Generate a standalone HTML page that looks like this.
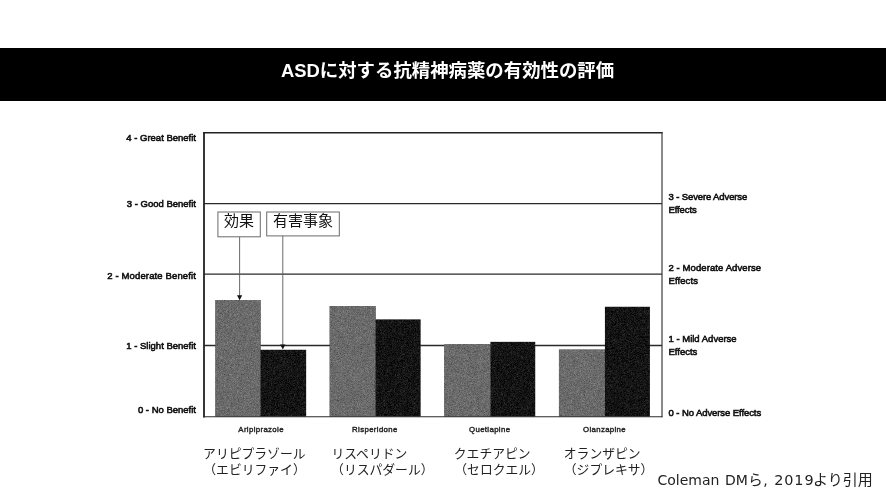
<!DOCTYPE html>
<html lang="ja">
<head>
<meta charset="utf-8">
<title>ASDに対する抗精神病薬の有効性の評価</title>
<style>
html,body{margin:0;padding:0;background:#fff;}
body{width:886px;height:498px;position:relative;overflow:hidden;font-family:"Liberation Sans","Noto Sans CJK JP",sans-serif;}
.abs{position:absolute;white-space:nowrap;}
#banner{position:absolute;left:0;top:47.5px;width:886px;height:53px;background:#000;}
#title{position:absolute;left:281px;top:44.3px;height:53px;line-height:53px;white-space:nowrap;color:#fff;font-weight:bold;font-size:18.4px;font-family:"Liberation Sans","Noto Sans CJK JP",sans-serif;}
.ax{font-size:9.5px;color:#111;font-family:"Liberation Sans",sans-serif;line-height:13.2px;font-weight:normal;-webkit-text-stroke:0.58px #111;letter-spacing:0;margin-top:-1.5px;}
.axl{text-align:right;}
.ax,.drug{filter:blur(0.3px);}
.drug{font-size:7.8px;letter-spacing:0.36px;width:80px;text-align:center;color:#222;font-weight:normal;-webkit-text-stroke:0.4px #222;font-family:"Liberation Sans",sans-serif;line-height:10px;}
.jp{font-size:12.8px;color:#222;font-family:"Liberation Sans","Noto Sans CJK JP",sans-serif;line-height:16.3px;}
.box{position:absolute;box-sizing:border-box;font-size:15px;color:#111;text-align:center;font-family:"Liberation Sans","Noto Sans CJK JP",sans-serif;}
#credit{font-size:14px;color:#222;font-family:"DejaVu Sans","Noto Sans CJK JP",sans-serif;line-height:20px;}
#c2{margin-left:1px;}
#c3{font-size:14.5px;margin-left:0.6px;}
#c4{margin-left:0.4px;}
#c5{font-size:14.4px;letter-spacing:0.95px;margin-left:2px;}
#c6{font-size:15px;margin-left:-1.6px;}
</style>
</head>
<body>
<div id="banner"></div>
<div id="title">ASDに対する抗精神病薬の有効性の評価</div>

<svg class="abs" style="left:0;top:0;filter:blur(0.35px)" width="886" height="498" viewBox="0 0 886 498">
  <defs>
    <filter id="grain" x="0" y="0" width="100%" height="100%" color-interpolation-filters="sRGB">
      <feTurbulence type="fractalNoise" baseFrequency="1.7" numOctaves="1" seed="7" result="t"/>
      <feColorMatrix in="t" type="matrix" values="0.6 0.6 0.6 0 -0.4  0.6 0.6 0.6 0 -0.4  0.6 0.6 0.6 0 -0.4  0 0 0 0 1" result="n"/>
      <feComposite in="SourceGraphic" in2="n" operator="arithmetic" k1="0" k2="1" k3="0.38" k4="-0.19" result="c"/>
      <feComposite in="c" in2="SourceGraphic" operator="in"/>
    </filter>
  </defs>
  <!-- gridlines -->
  <g stroke="#2a2a2a" stroke-width="1.3" fill="none">
    <line x1="204" y1="203.6" x2="662" y2="203.6"/>
    <line x1="204" y1="274.1" x2="662" y2="274.1"/>
    <line x1="204" y1="345.5" x2="662" y2="345.5"/>
  </g>
  <!-- bars -->
  <g fill="#6a6a6a" filter="url(#grain)">
    <rect x="215.2" y="300" width="45.6" height="116.7"/>
    <rect x="329.4" y="306" width="46.4" height="110.7"/>
    <rect x="444.1" y="344.2" width="46.6" height="72.5"/>
    <rect x="558.8" y="349.3" width="46.4" height="67.4"/>
  </g>
  <g fill="#141414" filter="url(#grain)">
    <rect x="260.4" y="349.6" width="45.9" height="67.1"/>
    <rect x="375.4" y="319.3" width="45.3" height="97.4"/>
    <rect x="490.3" y="341.7" width="45.1" height="75"/>
    <rect x="604.8" y="306.6" width="45.1" height="110.1"/>
  </g>
  <!-- frame -->
  <line x1="204" y1="132" x2="204" y2="417.4" stroke="#222" stroke-width="1.8"/>
  <line x1="203.2" y1="132.7" x2="662.5" y2="132.7" stroke="#222" stroke-width="1.6"/>
  <line x1="203.2" y1="416.7" x2="662.5" y2="416.7" stroke="#2a2a2a" stroke-width="1.15"/>
  <line x1="662" y1="132" x2="662" y2="417.3" stroke="#333" stroke-width="1.15"/>
  <!-- annotation boxes -->
  <g stroke="#6a6a6a" stroke-width="1" fill="#fff">
    <rect x="217.9" y="212" width="42.4" height="24.8"/>
    <rect x="266.7" y="212" width="72.6" height="23.9"/>
  </g>
  <!-- arrows -->
  <g stroke="#5a5a5a" stroke-width="0.9" fill="none">
    <line x1="239.6" y1="237" x2="239.6" y2="296"/>
    <line x1="282.8" y1="236" x2="282.8" y2="345"/>
  </g>
  <polygon points="237,295.3 242.2,295.3 239.6,300.2" fill="#111"/>
  <polygon points="280.2,344.6 285.4,344.6 282.8,349.6" fill="#111"/>
</svg>

<div class="box" style="left:217.4px;top:211.4px;width:43.4px;height:26px;line-height:20.4px;">効果</div>
<div class="box" style="left:266.2px;top:211.4px;width:73.6px;height:25.2px;line-height:20.4px;">有害事象</div>

<!-- left axis labels -->
<div class="abs ax axl" style="right:690px;top:132.8px;">4 - Great Benefit</div>
<div class="abs ax axl" style="right:690px;top:198.8px;">3 - Good Benefit</div>
<div class="abs ax axl" style="right:690px;top:270.3px;letter-spacing:0.13px;">2 - Moderate Benefit</div>
<div class="abs ax axl" style="right:690px;top:340.4px;">1 - Slight Benefit</div>
<div class="abs ax axl" style="right:690px;top:404.7px;">0 - No Benefit</div>

<!-- right axis labels -->
<div class="abs ax" style="left:668.5px;top:191.7px;letter-spacing:-0.12px;">3 - Severe Adverse<br>Effects</div>
<div class="abs ax" style="left:668.5px;top:262px;letter-spacing:0.09px;">2 - Moderate Adverse<br>Effects</div>
<div class="abs ax" style="left:668.5px;top:333px;">1 - Mild Adverse<br>Effects</div>
<div class="abs ax" style="left:668.5px;top:407.5px;letter-spacing:-0.08px;">0 - No Adverse Effects</div>

<!-- drug names -->
<div class="abs drug" style="left:221.1px;top:425.3px;">Aripiprazole</div>
<div class="abs drug" style="left:334.9px;top:425.3px;">Risperidone</div>
<div class="abs drug" style="left:449.7px;top:425.3px;">Quetiapine</div>
<div class="abs drug" style="left:564.5px;top:425.3px;">Olanzapine</div>

<!-- japanese drug names -->
<div class="abs jp" style="left:203.1px;top:445.5px;">アリピプラゾール</div>
<div class="abs jp" style="left:203.3px;top:461.6px;">（エビリファイ）</div>
<div class="abs jp" style="left:331.4px;top:445.5px;">リスペリドン</div>
<div class="abs jp" style="left:331.1px;top:461.6px;">（リスパダール）</div>
<div class="abs jp" style="left:453.8px;top:445.5px;">クエチアピン</div>
<div class="abs jp" style="left:454.3px;top:461.6px;">（セロクエル）</div>
<div class="abs jp" style="left:563.8px;top:445.5px;">オランザピン</div>
<div class="abs jp" style="left:563.8px;top:461.6px;">（ジプレキサ）</div>

<div class="abs" id="credit" style="left:657.5px;top:470px;"><span id="c1">Coleman</span> <span id="c2">DM</span><span id="c3">ら</span><span id="c4">,</span> <span id="c5">2019</span><span id="c6">より引用</span></div>
</body>
</html>
